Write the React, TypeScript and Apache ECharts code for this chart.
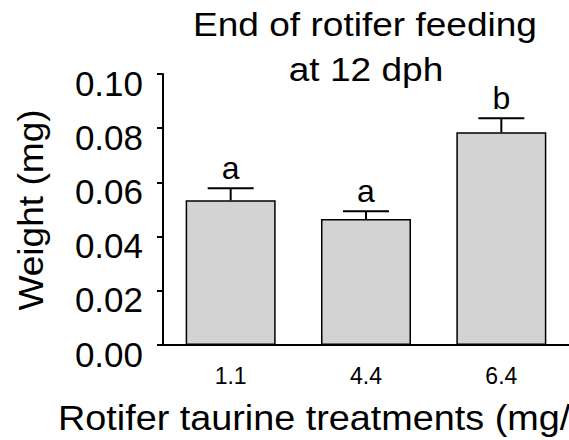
import React, { useEffect, useRef } from "react";
import * as echarts from "echarts";

const categories = ["1.1", "4.4", "6.4"];
const meanWeight = [0.0534, 0.0465, 0.0785];
const semWeight = [0.0044, 0.0029, 0.0052];
const groupLetters = ["a", "a", "b"];
const yTicks = { min: 0, max: 0.1, interval: 0.02 };

const FONT = "'Liberation Sans', Arial, Helvetica, sans-serif";

// text element whose glyphs are a little wider than the font's own
function wideText(text: string, x: number, y: number, size: number, opts: any = {}) {
  return {
    type: "text",
    x,
    y,
    scaleX: opts.scaleX ?? 1.08,
    rotation: opts.rotation ?? 0,
    style: {
      text,
      x: 0,
      y: 0,
      align: opts.align ?? "center",
      verticalAlign: "middle",
      font: `${size}px ${FONT}`,
      fill: "#000",
    },
  };
}

export default function App() {
  const ref = useRef<HTMLDivElement>(null);

  useEffect(() => {
    if (!ref.current) return;
    const chart = echarts.init(ref.current, null, { renderer: "svg" });

    const errData = categories.map((c, i) => [i, meanWeight[i], meanWeight[i] + semWeight[i], groupLetters[i]]);

    chart.setOption({
      animation: false,
      backgroundColor: "#ffffff",
      textStyle: { fontFamily: FONT, color: "#000" },
      graphic: [
        wideText("End of rotifer feeding", 365, 25, 34, { scaleX: 1.09 }),
        wideText("at 12 dph", 366, 70, 34, { scaleX: 1.09 }),
        wideText("Weight (mg)", 31, 210, 35, { scaleX: 1.06, rotation: Math.PI / 2 }),
        wideText("Rotifer taurine treatments (mg/", 58, 418, 35, { scaleX: 1.08, align: "left" }),
      ],
      grid: { left: 163, top: 74, width: 408, height: 271 },
      xAxis: {
        type: "category",
        data: categories,
        axisLine: { lineStyle: { color: "#000", width: 2 } },
        axisTick: { alignWithLabel: true, length: 8, lineStyle: { color: "#000", width: 2 } },
        axisLabel: { fontSize: 23, color: "#000", margin: 19, fontFamily: FONT },
      },
      yAxis: {
        type: "value",
        min: yTicks.min,
        max: yTicks.max,
        interval: yTicks.interval,
        splitLine: { show: false },
        axisLine: { show: true, lineStyle: { color: "#000", width: 2 } },
        axisTick: { show: true, length: 6, lineStyle: { color: "#000", width: 2 } },
        axisLabel: {
          fontSize: 35,
          color: "#000",
          margin: 20,
          verticalAlign: "top",
          lineHeight: 18,
          fontFamily: FONT,
          formatter: (v: number) => v.toFixed(2),
        },
      },
      series: [
        {
          type: "bar",
          data: meanWeight,
          barWidth: 90,
          itemStyle: { color: "#d3d3d3", borderColor: "#000", borderWidth: 1.5 },
        },
        {
          type: "custom",
          data: errData,
          z: 3,
          renderItem: (params: any, api: any) => {
            const x = api.value(0);
            const base = api.coord([x, api.value(1)]);
            const top = api.coord([x, api.value(2)]);
            const half = 23;
            return {
              type: "group",
              children: [
                {
                  type: "line",
                  shape: { x1: base[0], y1: base[1], x2: top[0], y2: top[1] },
                  style: { stroke: "#000", lineWidth: 2 },
                },
                {
                  type: "line",
                  shape: { x1: top[0] - half, y1: top[1], x2: top[0] + half, y2: top[1] },
                  style: { stroke: "#000", lineWidth: 2 },
                },
                {
                  type: "text",
                  style: {
                    text: String(api.value(3)),
                    x: top[0],
                    y: top[1] - 20,
                    align: "center",
                    verticalAlign: "middle",
                    font: `32px ${FONT}`,
                    fill: "#000",
                  },
                },
              ],
            };
          },
        },
      ],
    });

    return () => chart.dispose();
  }, []);

  return (
    <div
      ref={ref}
      style={{ position: "fixed", left: 0, top: 0, width: 569, height: 440, background: "#fff" }}
    />
  );
}
